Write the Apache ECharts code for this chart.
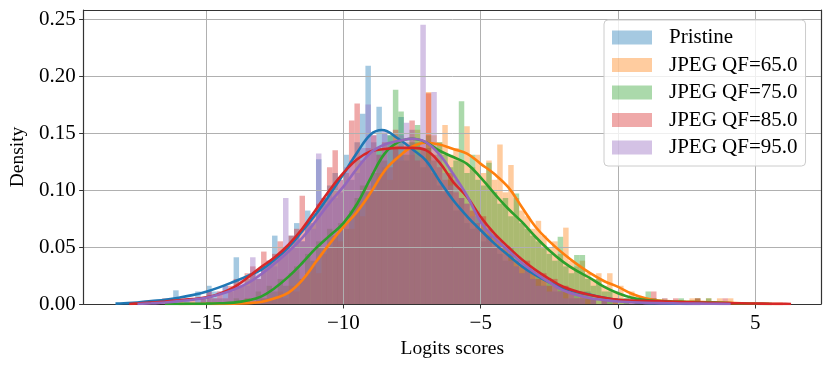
<!DOCTYPE html>
<html>
<head>
<meta charset="utf-8">
<script src="https://cdn.jsdelivr.net/npm/echarts@6/dist/echarts.min.js"></script>
<style>html,body{margin:0;padding:0;background:#fff}#c{width:831px;height:367px}</style>
</head>
<body>
<div id="c"></div>
<script>
// ---------- data ----------
const seriesNames = ['Pristine', 'JPEG QF=65.0', 'JPEG QF=75.0', 'JPEG QF=85.0', 'JPEG QF=95.0'];
const binWidth = 0.2;
const histStarts = [-16.4, -13.6, -14.0, -16.6, -15.8];

const pristineHist = [
 0, 0.012, 0, 0.005, 0,
 0.011, 0.005, 0.016, 0.011, 0.005,
 0.016, 0.011, 0.041, 0.016, 0.022,
 0.027, 0.022, 0.033, 0.038, 0.060,
 0.044, 0.049, 0.060, 0.071, 0.055,
 0.082, 0.071, 0.127, 0.093, 0.104,
 0.115, 0.098, 0.131, 0.109, 0.142,
 0.167, 0.209, 0.142, 0.173, 0.150,
 0.148, 0.137, 0.164, 0.126, 0.153,
 0.142, 0.120, 0.137, 0.115, 0.104,
 0.098, 0.109, 0.082, 0.093, 0.071,
 0.066, 0.077, 0.055, 0.060, 0.049,
 0.044, 0.038, 0.049, 0.033, 0.027,
 0.033, 0.022, 0.027, 0.016, 0.022,
 0.011, 0.016, 0.011, 0.005, 0.011,
 0.005, 0.011, 0.005, 0, 0.005,
 0.005, 0, 0, 0.005, 0,
 0, 0, 0, 0.005, 0];

const qf65Hist = [
 0.005, 0, 0, 0.005, 0.005,
 0.005, 0.011, 0.005, 0.016, 0.011,
 0.022, 0.027, 0.033, 0.027, 0.044,
 0.049, 0.060, 0.055, 0.071, 0.066,
 0.088, 0.077, 0.104, 0.098, 0.115,
 0.120, 0.109, 0.137, 0.126, 0.142,
 0.131, 0.153, 0.137, 0.186, 0.148,
 0.142, 0.157, 0.131, 0.137, 0.126,
 0.156, 0.120, 0.131, 0.115, 0.126,
 0.109, 0.140, 0.098, 0.122, 0.093,
 0.082, 0.077, 0.066, 0.073, 0.060,
 0.049, 0.055, 0.044, 0.067, 0.038,
 0.033, 0.038, 0.027, 0.022, 0.027,
 0.016, 0.027, 0.011, 0.016, 0.005,
 0.011, 0.005, 0.005, 0, 0,
 0, 0.005, 0, 0, 0,
 0, 0.005, 0.005, 0, 0.005,
 0, 0.005, 0, 0.005];

const qf75Hist = [
 0.005, 0, 0.005, 0, 0.011,
 0.005, 0.016, 0.011, 0.022, 0.016,
 0.027, 0.033, 0.022, 0.044, 0.038,
 0.055, 0.049, 0.066, 0.060, 0.071,
 0.066, 0.082, 0.093, 0.104, 0.098,
 0.115, 0.137, 0.126, 0.148, 0.188,
 0.169, 0.131, 0.142, 0.157, 0.137,
 0.148, 0.126, 0.142, 0.131, 0.120,
 0.126, 0.178, 0.115, 0.131, 0.109,
 0.104, 0.124, 0.098, 0.088, 0.093,
 0.077, 0.097, 0.071, 0.066, 0.060,
 0.055, 0.049, 0.044, 0.038, 0.059,
 0.033, 0.027, 0.043, 0.043, 0.022,
 0.016, 0.022, 0.011, 0.011, 0.005,
 0.005, 0.005, 0, 0.005, 0,
 0.011, 0.005, 0, 0, 0,
 0, 0.005, 0, 0, 0.005,
 0, 0.005, 0];

const qf85Hist = [
 0.005, 0, 0, 0.005, 0,
 0.005, 0, 0.005, 0.011, 0.005,
 0.011, 0.005, 0.016, 0.022, 0.016,
 0.027, 0.033, 0.022, 0.046, 0.038,
 0.044, 0.055, 0.049, 0.060, 0.066,
 0.095, 0.071, 0.077, 0.088, 0.093,
 0.120, 0.135, 0.109, 0.115, 0.161,
 0.176, 0.126, 0.137, 0.148, 0.131,
 0.142, 0.120, 0.153, 0.131, 0.137,
 0.161, 0.126, 0.142, 0.185, 0.131,
 0.120, 0.109, 0.115, 0.098, 0.093,
 0.088, 0.082, 0.071, 0.077, 0.066,
 0.060, 0.055, 0.049, 0.044, 0.038,
 0.033, 0.038, 0.027, 0.022, 0.027,
 0.016, 0.022, 0.011, 0.016, 0.011,
 0.005, 0.011, 0.005, 0.005, 0,
 0.005, 0, 0.005, 0, 0,
 0, 0.005, 0, 0, 0.011,
 0, 0, 0, 0.005, 0,
 0, 0, 0.005, 0, 0,
 0, 0, 0.005, 0];

const qf95Hist = [
 0.005, 0, 0.005, 0.005, 0.011,
 0.005, 0.011, 0.016, 0.011, 0.016,
 0.022, 0.016, 0.041, 0.027, 0.033,
 0.038, 0.033, 0.044, 0.093, 0.049,
 0.060, 0.055, 0.071, 0.066, 0.132,
 0.088, 0.098, 0.093, 0.109, 0.120,
 0.126, 0.115, 0.137, 0.175, 0.148,
 0.131, 0.153, 0.142, 0.137, 0.148,
 0.159, 0.137, 0.131, 0.245, 0.126,
 0.186, 0.131, 0.115, 0.104, 0.109,
 0.093, 0.088, 0.077, 0.082, 0.066,
 0.060, 0.055, 0.049, 0.044, 0.038,
 0.033, 0.027, 0.033, 0.022, 0.016,
 0.016, 0.011, 0.016, 0.011, 0.005,
 0.011, 0.005, 0.005, 0, 0.005,
 0, 0.005, 0, 0, 0,
 0, 0.005, 0, 0, 0,
 0, 0, 0.005, 0];

// KDE curves: [x, density]
const pristineKde = [[-18.3,0.0003],[-18,0.0006],[-17.5,0.0013],[-17,0.0026],[-16.5,0.0038],[-16,0.0055],[-15.5,0.0078],[-15,0.0108],[-14.5,0.0148],[-14,0.0195],[-13.5,0.0245],[-13,0.030],[-12.5,0.039],[-12,0.050],[-11.5,0.064],[-11,0.079],[-10.5,0.096],[-10,0.114],[-9.5,0.133],[-9,0.149],[-8.6,0.1527],[-8,0.145],[-7.5,0.136],[-7,0.126],[-6.5,0.108],[-6,0.091],[-5.5,0.077],[-5,0.0647],[-4.5,0.053],[-4,0.0428],[-3.5,0.033],[-3,0.0253],[-2.5,0.019],[-2,0.014],[-1.5,0.0105],[-1,0.008],[-0.5,0.0055],[0,0.0035],[0.5,0.002],[1,0.001],[1.5,0.0006],[2,0.0003],[2.5,0.0001],[3,0]];
const qf65Kde = [[-16,0],[-15,0.0001],[-14,0.0003],[-13.5,0.0008],[-13,0.0018],[-12.5,0.005],[-12,0.010],[-11.5,0.021],[-11,0.037],[-10.5,0.053],[-10,0.0676],[-9.5,0.081],[-9,0.098],[-8.5,0.117],[-8,0.129],[-7.5,0.138],[-7,0.1415],[-6.5,0.140],[-6,0.136],[-5.5,0.132],[-5,0.123],[-4.5,0.114],[-4,0.1025],[-3.5,0.085],[-3,0.0676],[-2.5,0.055],[-2,0.0443],[-1.5,0.035],[-1,0.0268],[-0.5,0.020],[0,0.015],[0.5,0.009],[1,0.005],[1.5,0.003],[2,0.0022],[2.5,0.002],[3,0.0018],[3.5,0.0015],[4,0.001],[4.5,0.0006],[5,0.0003],[5.5,0.0001],[6,0]];
const qf75Kde = [[-16.5,0],[-16,0.0001],[-15,0.0003],[-14.5,0.0006],[-14,0.0012],[-13.5,0.003],[-13,0.0065],[-12.5,0.014],[-12,0.024],[-11.5,0.036],[-11,0.049],[-10.5,0.060],[-10,0.071],[-9.5,0.088],[-9,0.111],[-8.5,0.132],[-8,0.142],[-7.5,0.145],[-7,0.142],[-6.5,0.1345],[-6,0.129],[-5.5,0.123],[-5,0.111],[-4.5,0.0968],[-4,0.0836],[-3.5,0.072],[-3,0.0588],[-2.5,0.047],[-2,0.037],[-1.5,0.029],[-1,0.0225],[-0.5,0.015],[0,0.0094],[0.5,0.0055],[1,0.0035],[1.5,0.0025],[2,0.002],[2.5,0.0018],[3,0.0015],[3.5,0.0012],[4,0.0008],[4.5,0.0004],[5,0.0002],[5.6,0]];
const qf85Kde = [[-17.8,0],[-17.5,0.0005],[-17,0.0012],[-16.5,0.0022],[-16,0.0033],[-15.5,0.0043],[-15,0.0058],[-14.5,0.009],[-14,0.0145],[-13.5,0.023],[-13,0.0325],[-12.5,0.041],[-12,0.052],[-11.5,0.066],[-11,0.083],[-10.5,0.100],[-10,0.115],[-9.5,0.127],[-9,0.134],[-8.5,0.136],[-8,0.137],[-7.5,0.137],[-7,0.135],[-6.5,0.124],[-6,0.107],[-5.5,0.094],[-5,0.0763],[-4.5,0.0618],[-4,0.050],[-3.5,0.039],[-3,0.0297],[-2.5,0.022],[-2,0.0151],[-1.5,0.011],[-1,0.0079],[-0.5,0.0055],[0,0.0038],[0.5,0.003],[1,0.0027],[1.5,0.0024],[2,0.002],[2.5,0.0016],[3,0.0012],[3.5,0.001],[4,0.0008],[4.5,0.0006],[5,0.0004],[5.5,0.0002],[6,0.0001],[6.3,0]];
const qf95Kde = [[-17.5,0],[-17,0.0006],[-16.5,0.0013],[-16,0.0025],[-15.5,0.0038],[-15,0.0055],[-14.5,0.0085],[-14,0.0125],[-13.5,0.018],[-13,0.026],[-12.5,0.0356],[-12,0.046],[-11.5,0.058],[-11,0.073],[-10.5,0.089],[-10,0.103],[-9.5,0.119],[-9,0.133],[-8.5,0.140],[-8,0.143],[-7.5,0.145],[-7,0.142],[-6.5,0.131],[-6,0.114],[-5.5,0.095],[-5,0.072],[-4.5,0.058],[-4,0.047],[-3.5,0.036],[-3,0.027],[-2.5,0.019],[-2,0.012],[-1.5,0.008],[-1,0.005],[-0.5,0.0035],[0,0.0022],[0.5,0.0015],[1,0.001],[1.5,0.0008],[2,0.0006],[2.5,0.0004],[3,0.0003],[3.5,0.0002],[4.1,0]];

const xTicks = [-15, -10, -5, 0, 5];
const yTicks = [0, 0.05, 0.10, 0.15, 0.20, 0.25];

// ---------- style ----------
const lineColors = ['#1f77b4', '#ff7f0e', '#2ca02c', '#d62728', '#9467bd'];
const fillColors = ['rgba(31,119,180,0.4)', 'rgba(255,127,14,0.4)', 'rgba(44,160,44,0.4)', 'rgba(214,39,40,0.4)', 'rgba(148,103,189,0.4)'];
const FONT = 'Liberation Serif';

const hists = [pristineHist, qf65Hist, qf75Hist, qf85Hist, qf95Hist];
const kdes = [pristineKde, qf65Kde, qf75Kde, qf85Kde, qf95Kde];

function binsOf(heights, start) {
  const out = [];
  heights.forEach((h, i) => {
    if (h > 0) out.push([start + i * binWidth, start + (i + 1) * binWidth, h]);
  });
  return out;
}

const series = [];
hists.forEach((h, k) => {
  const fill = fillColors[k];
  series.push({
    name: seriesNames[k],
    type: 'custom',
    z: 2,
    itemStyle: { color: fill },
    encode: { x: [0, 1], y: 2 },
    data: binsOf(h, histStarts[k]),
    renderItem: function (params, api) {
      const p0 = api.coord([api.value(0), api.value(2)]);
      const p1 = api.coord([api.value(1), 0]);
      return { type: 'rect', shape: { x: p0[0], y: p0[1], width: p1[0] - p0[0], height: p1[1] - p0[1] }, style: { fill: fill } };
    },
    silent: true
  });
});
kdes.forEach((d, k) => {
  series.push({
    name: seriesNames[k] + ' kde',
    type: 'line',
    z: 6,
    data: d,
    smooth: 0.4,
    showSymbol: false,
    symbol: 'none',
    lineStyle: { color: lineColors[k], width: 2.6 },
    itemStyle: { color: lineColors[k] },
    silent: true
  });
});

const chart = echarts.init(document.getElementById('c'), null, { renderer: 'canvas' });
chart.setOption({
  animation: false,
  backgroundColor: '#ffffff',
  grid: { left: 81, right: 10, top: 10, bottom: 63, containLabel: false },
  legend: {
    data: seriesNames.map((n, k) => ({ name: n, icon: 'rect', itemStyle: { color: fillColors[k] } })),
    orient: 'vertical',
    left: 604, top: 20,
    itemWidth: 40, itemHeight: 14, itemGap: 6.5,
    padding: [7, 8, 8, 8],
    backgroundColor: 'rgba(255,255,255,0.8)',
    borderColor: '#cccccc', borderWidth: 1, borderRadius: 4,
    selectedMode: false,
    textStyle: { fontFamily: FONT, fontSize: 21, color: '#000', padding: [0, 0, 0, 12] },
    z: 20
  },
  xAxis: [{
    type: 'value', min: -19.46, max: 7.39, splitNumber: 5, z: 3,
    name: 'Logits scores', nameLocation: 'middle', nameGap: 34,
    nameTextStyle: { fontFamily: FONT, fontSize: 19.5, color: '#000' },
    axisLine: { show: true, onZero: false, lineStyle: { color: '#333', width: 1.2 } },
    axisTick: { show: true, length: 4.5, lineStyle: { color: '#333', width: 1 } },
    axisLabel: { fontFamily: FONT, fontSize: 21, color: '#000', margin: 9, showMinLabel: false, showMaxLabel: false,
      formatter: v => xTicks.indexOf(v) >= 0 ? (v < 0 ? '\u2212' + Math.abs(v) : String(v)) : '' },
    splitLine: { show: true, lineStyle: { color: '#b0b0b0', width: 1 } }
  }, {
    type: 'value', position: 'top', min: -19.46, max: 7.39, z: 10,
    axisLine: { show: true, onZero: false, lineStyle: { color: '#333', width: 1.2 } },
    axisTick: { show: false }, axisLabel: { show: false }, splitLine: { show: false }
  }],
  yAxis: [{
    type: 'value', min: 0, max: 0.258, interval: 0.05, z: 3,
    name: 'Density', nameLocation: 'middle', nameGap: 52, nameRotate: 90,
    nameTextStyle: { fontFamily: FONT, fontSize: 19.5, color: '#000' },
    axisLine: { show: true, onZero: false, lineStyle: { color: '#333', width: 1.2 } },
    axisTick: { show: true, length: 4.5, lineStyle: { color: '#333', width: 1 } },
    axisLabel: { fontFamily: FONT, fontSize: 21, color: '#000', margin: 8, showMaxLabel: false,
      formatter: v => yTicks.some(t => Math.abs(t - v) < 1e-9) ? v.toFixed(2) : '' },
    splitLine: { show: true, lineStyle: { color: '#b0b0b0', width: 1 } }
  }, {
    type: 'value', position: 'right', min: 0, max: 0.258, z: 10,
    axisLine: { show: true, onZero: false, lineStyle: { color: '#333', width: 1.2 } },
    axisTick: { show: false }, axisLabel: { show: false }, splitLine: { show: false }
  }],
  series: series
});
</script>
</body>
</html>
